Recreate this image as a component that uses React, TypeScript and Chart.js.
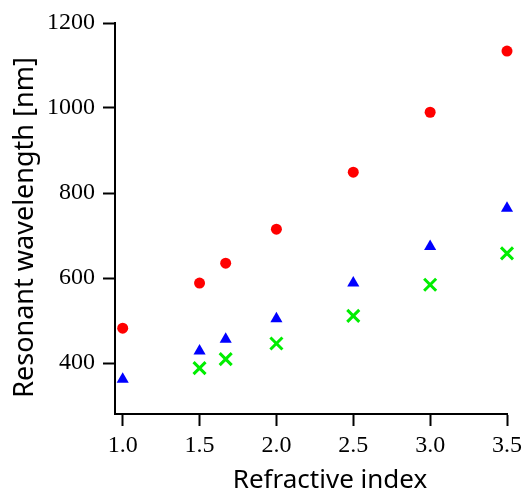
import { useEffect, useRef } from 'react';
import { Chart, registerables } from 'chart.js';
Chart.register(...registerables);

const refractiveIndex = [1.0, 1.5, 1.67, 2.0, 2.5, 3.0, 3.5];
const redSeries = [482, 588, 635, 715, 849, 990, 1134];
const blueSeries = [362, 428, 456, 504, 588, 674, 764];
const greenIndex = [1.5, 1.67, 2.0, 2.5, 3.0, 3.5];
const greenSeries = [388, 409, 446, 511, 584, 658];
const xTicks = [1.0, 1.5, 2.0, 2.5, 3.0, 3.5];
const yTicks = [400, 600, 800, 1000, 1200];
const xTitle = 'Refractive index';
const yTitle = 'Resonant wavelength [nm]';

const xTitleFont = "26px 'Noto Sans', 'DejaVu Sans', sans-serif";
const yTitleFont = "27px 'Noto Sans', 'DejaVu Sans', sans-serif";

const axisTitles = {
  id: 'axisTitles',
  afterDraw(chart: any) {
    const { ctx, chartArea } = chart;
    ctx.save();
    ctx.fillStyle = '#000';
    ctx.textAlign = 'center';
    ctx.textBaseline = 'alphabetic';
    ctx.font = xTitleFont;
    const cx = (chartArea.left + chartArea.right) / 2 + 19;
    ctx.fillText(xTitle, cx, chart.height - 2);
    ctx.font = yTitleFont;
    const cy = (chartArea.top + chartArea.bottom) / 2 + 9;
    ctx.translate(chartArea.left - 82, cy);
    ctx.rotate(-Math.PI / 2);
    ctx.fillText(yTitle, 0, 0);
    ctx.restore();
  },
};

export default function App() {
  const ref = useRef<HTMLCanvasElement | null>(null);
  useEffect(() => {
    if (!ref.current) return;
    const serif = { family: "'Liberation Serif', 'Times New Roman', serif", size: 24 };
    const chart = new Chart(ref.current, {
      type: 'scatter',
      plugins: [axisTitles],
      data: {
        datasets: [
          {
            label: 'red',
            data: refractiveIndex.map((x, i) => ({ x, y: redSeries[i] })),
            pointStyle: 'circle',
            pointRadius: 5.5,
            backgroundColor: '#ff0000',
            borderColor: '#ff0000',
            borderWidth: 0,
            clip: false,
          },
          {
            label: 'blue',
            data: refractiveIndex.map((x, i) => ({ x, y: blueSeries[i] })),
            pointStyle: 'triangle',
            pointRadius: 7,
            backgroundColor: '#0000ff',
            borderColor: '#0000ff',
            borderWidth: 0,
            clip: false,
          },
          {
            label: 'green',
            data: greenIndex.map((x, i) => ({ x, y: greenSeries[i] })),
            pointStyle: 'crossRot',
            pointRadius: 8.5,
            backgroundColor: '#00ee00',
            borderColor: '#00ee00',
            borderWidth: 3,
            clip: false,
          },
        ],
      },
      options: {
        animation: false,
        responsive: false,
        layout: { padding: { top: 23, right: 17, left: 0, bottom: 0 } },
        plugins: { legend: { display: false }, tooltip: { enabled: false } },
        scales: {
          x: {
            type: 'linear',
            min: 0.95,
            max: 3.5,
            afterBuildTicks: (s: any) => {
              s.ticks = xTicks.map((v) => ({ value: v }));
            },
            afterFit: (s: any) => {
              s.height = 76;
              s.paddingLeft = 0;
              s.paddingRight = 0;
            },
            ticks: {
              callback: (v: any) => Number(v).toFixed(1),
              font: serif,
              color: '#000',
              padding: 5,
              maxRotation: 0,
              autoSkip: false,
            },
            grid: { drawOnChartArea: false, tickLength: 12, tickWidth: 2, color: '#000' },
            border: { color: '#000', width: 2 },
            title: { display: false },
          },
          y: {
            type: 'linear',
            min: 280,
            max: 1200,
            afterBuildTicks: (s: any) => {
              s.ticks = yTicks.map((v) => ({ value: v }));
            },
            afterFit: (s: any) => {
              s.width = 115;
              s.paddingTop = 0;
              s.paddingBottom = 0;
            },
            ticks: {
              callback: (v: any) => String(v),
              font: serif,
              color: '#000',
              padding: 8,
              autoSkip: false,
            },
            grid: { drawOnChartArea: false, tickLength: 12, tickWidth: 2, color: '#000' },
            border: { color: '#000', width: 2 },
            title: { display: false },
          },
        },
      },
    });
    return () => chart.destroy();
  }, []);
  return (
    <div style={{ position: 'absolute', left: 0, top: 0, width: 524, height: 490, background: '#fff' }}>
      <canvas ref={ref} width={524} height={490} style={{ width: 524, height: 490 }} />
    </div>
  );
}
